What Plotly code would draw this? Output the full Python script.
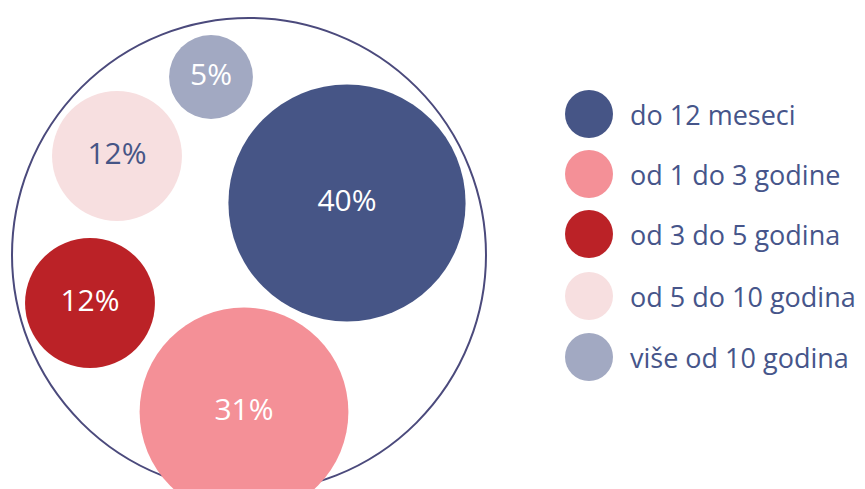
import math
import plotly.graph_objects as go

# Share of respondents by length of time
categories = ["do 12 meseci", "od 1 do 3 godine", "od 3 do 5 godina",
              "od 5 do 10 godina", "više od 10 godina"]
shares = [40, 31, 12, 12, 5]

# Styling and layout (pixel coordinates of the packed bubbles)
colors = ["#465586", "#f49097", "#bb2227", "#f7dfe0", "#a2a9c2"]
label_colors = ["#ffffff", "#ffffff", "#ffffff", "#465586", "#ffffff"]
bubble_x = [347, 244, 90, 117, 211]
bubble_y = [203, 412, 303, 156, 77]
legend_x = 589
legend_y = [114, 174, 234, 296, 357]
text_color = "#46558a"
FONT = "Open Sans"

W, H = 865, 489
px_per_sqrt = 37.5  # bubble diameter in px per sqrt(percentage point)

fig = go.Figure()

# Bubbles: area proportional to the share
fig.add_trace(go.Scatter(
    x=bubble_x, y=bubble_y,
    mode="markers+text",
    marker=dict(size=shares, sizemode="area", sizeref=2 / px_per_sqrt ** 2,
                color=colors, opacity=1, line=dict(width=0)),
    text=[f"{v}%" for v in shares],
    textposition="middle center",
    textfont=dict(family=FONT, size=30, color=label_colors),
    hoverinfo="skip",
    cliponaxis=True,
))

# Legend swatches
fig.add_trace(go.Scatter(
    x=[legend_x] * len(categories), y=legend_y,
    mode="markers",
    marker=dict(size=48, color=colors, line=dict(width=0)),
    hoverinfo="skip",
))

for cat, ly in zip(categories, legend_y):
    fig.add_annotation(x=628, y=ly, xref="x", yref="y", text=cat,
                       showarrow=False, xanchor="left", yanchor="middle",
                       font=dict(family=FONT, size=27, color=text_color))

# Enclosing circle
fig.add_shape(type="circle", xref="x", yref="y", x0=12, x1=486, y0=18, y1=492,
              line=dict(color="#4b4a7c", width=2), layer="below")

fig.update_layout(
    width=W, height=H,
    margin=dict(l=0, r=0, t=0, b=0),
    paper_bgcolor="white", plot_bgcolor="white",
    showlegend=False,
    xaxis=dict(range=[0, W], visible=False, fixedrange=True),
    yaxis=dict(range=[H, 0], visible=False, fixedrange=True),
)

fig.write_html("out.html")
